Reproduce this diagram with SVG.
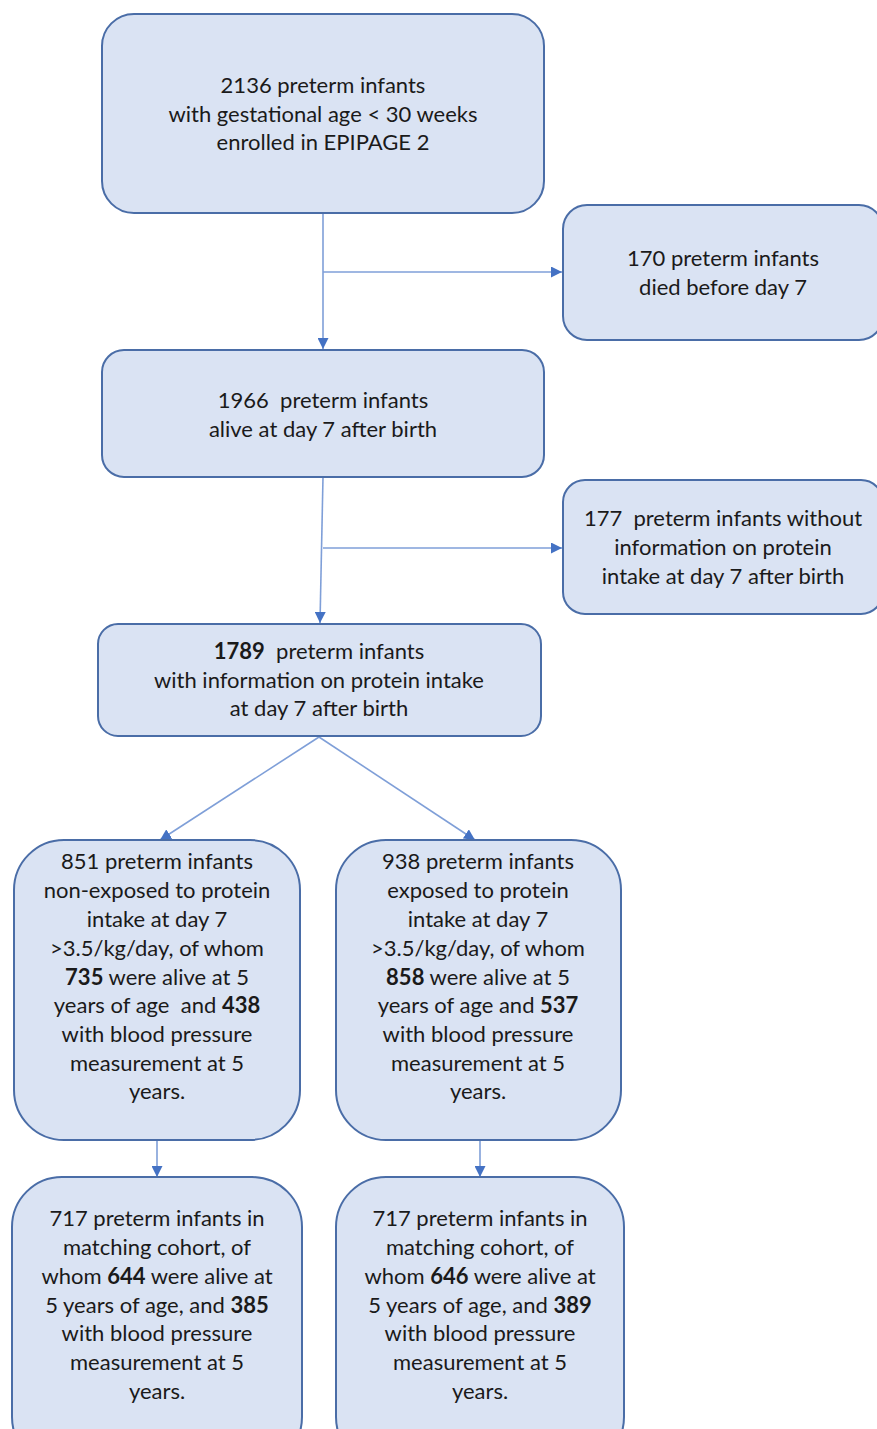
<svg xmlns="http://www.w3.org/2000/svg" width="877" height="1429" viewBox="0 0 877 1429">
<style>
.box{fill:#dae3f3;stroke:#4a6da7;stroke-width:2}
.t{font-family:Lato,"Liberation Sans",sans-serif;font-size:22px;fill:#1a1a1a;text-anchor:middle}
.b{font-weight:bold}
.c{stroke:#7f9fd8;stroke-width:1.6;fill:none}
</style>
<defs>
<marker id="ah" viewBox="0 0 10 10" refX="10" refY="5" markerWidth="11" markerHeight="11" markerUnits="userSpaceOnUse" orient="auto">
<path d="M0,0 L10,5 L0,10 z" fill="#4472c4"/>
</marker>
</defs>
<rect width="877" height="1429" fill="#ffffff"/>
<g id="connectors">
<path class="c" d="M323,213 L323,349" marker-end="url(#ah)"/>
<path class="c" d="M323,272 L562,272" marker-end="url(#ah)"/>
<path class="c" d="M323,477 L320,623" marker-end="url(#ah)"/>
<path class="c" d="M323,548 L562,548" marker-end="url(#ah)"/>
<path class="c" d="M319,737 L160,840" marker-end="url(#ah)"/>
<path class="c" d="M319,737 L475,840" marker-end="url(#ah)"/>
<path class="c" d="M157,1141 L157,1177" marker-end="url(#ah)"/>
<path class="c" d="M480,1141 L480,1177" marker-end="url(#ah)"/>
</g>
<g id="n1">
<rect class="box" x="102" y="14" width="442" height="199" rx="32"/>
<text class="t" x="323" y="93">2136 preterm infants</text>
<text class="t" x="323" y="122">with gestational age &lt; 30 weeks</text>
<text class="t" x="323" y="150">enrolled in EPIPAGE 2</text>
</g>
<g id="n2">
<rect class="box" x="563" y="205" width="320" height="135" rx="24"/>
<text class="t" x="723" y="266">170 preterm infants</text>
<text class="t" x="723" y="295">died before day 7</text>
</g>
<g id="n3">
<rect class="box" x="102" y="350" width="442" height="127" rx="22"/>
<text class="t" x="323" y="408" xml:space="preserve">1966  preterm infants</text>
<text class="t" x="323" y="437">alive at day 7 after birth</text>
</g>
<g id="n4">
<rect class="box" x="563" y="480" width="320" height="134" rx="22"/>
<text class="t" x="723" y="526" xml:space="preserve">177  preterm infants without</text>
<text class="t" x="723" y="555">information on protein</text>
<text class="t" x="723" y="584">intake at day 7 after birth</text>
</g>
<g id="n5">
<rect class="box" x="98" y="624" width="443" height="112" rx="20"/>
<text class="t" x="319" y="659" xml:space="preserve"><tspan class="b">1789</tspan>  preterm infants</text>
<text class="t" x="319" y="688">with information on protein intake</text>
<text class="t" x="319" y="716">at day 7 after birth</text>
</g>
<g id="n6">
<rect class="box" x="14" y="840" width="286" height="300" rx="50"/>
<text class="t" x="157" y="869">851 preterm infants</text>
<text class="t" x="157" y="898">non-exposed to protein</text>
<text class="t" x="157" y="927">intake at day 7</text>
<text class="t" x="157" y="956">&gt;3.5/kg/day, of whom</text>
<text class="t" x="157" y="985"><tspan class="b">735</tspan> were alive at 5</text>
<text class="t" x="157" y="1013" xml:space="preserve">years of age  and <tspan class="b">438</tspan></text>
<text class="t" x="157" y="1042">with blood pressure</text>
<text class="t" x="157" y="1071">measurement at 5</text>
<text class="t" x="157" y="1099">years.</text>
</g>
<g id="n7">
<rect class="box" x="336" y="840" width="285" height="300" rx="50"/>
<text class="t" x="478" y="869">938 preterm infants</text>
<text class="t" x="478" y="898">exposed to protein</text>
<text class="t" x="478" y="927">intake at day 7</text>
<text class="t" x="478" y="956">&gt;3.5/kg/day, of whom</text>
<text class="t" x="478" y="985"><tspan class="b">858</tspan> were alive at 5</text>
<text class="t" x="478" y="1013">years of age and <tspan class="b">537</tspan></text>
<text class="t" x="478" y="1042">with blood pressure</text>
<text class="t" x="478" y="1071">measurement at 5</text>
<text class="t" x="478" y="1099">years.</text>
</g>
<g id="n8">
<rect class="box" x="12" y="1177" width="290" height="290" rx="50"/>
<text class="t" x="157" y="1226">717 preterm infants in</text>
<text class="t" x="157" y="1255">matching cohort, of</text>
<text class="t" x="157" y="1284">whom <tspan class="b">644</tspan> were alive at</text>
<text class="t" x="157" y="1313">5 years of age, and <tspan class="b">385</tspan></text>
<text class="t" x="157" y="1341">with blood pressure</text>
<text class="t" x="157" y="1370">measurement at 5</text>
<text class="t" x="157" y="1399">years.</text>
</g>
<g id="n9">
<rect class="box" x="336" y="1177" width="288" height="290" rx="50"/>
<text class="t" x="480" y="1226">717 preterm infants in</text>
<text class="t" x="480" y="1255">matching cohort, of</text>
<text class="t" x="480" y="1284">whom <tspan class="b">646</tspan> were alive at</text>
<text class="t" x="480" y="1313">5 years of age, and <tspan class="b">389</tspan></text>
<text class="t" x="480" y="1341">with blood pressure</text>
<text class="t" x="480" y="1370">measurement at 5</text>
<text class="t" x="480" y="1399">years.</text>
</g>
</svg>
